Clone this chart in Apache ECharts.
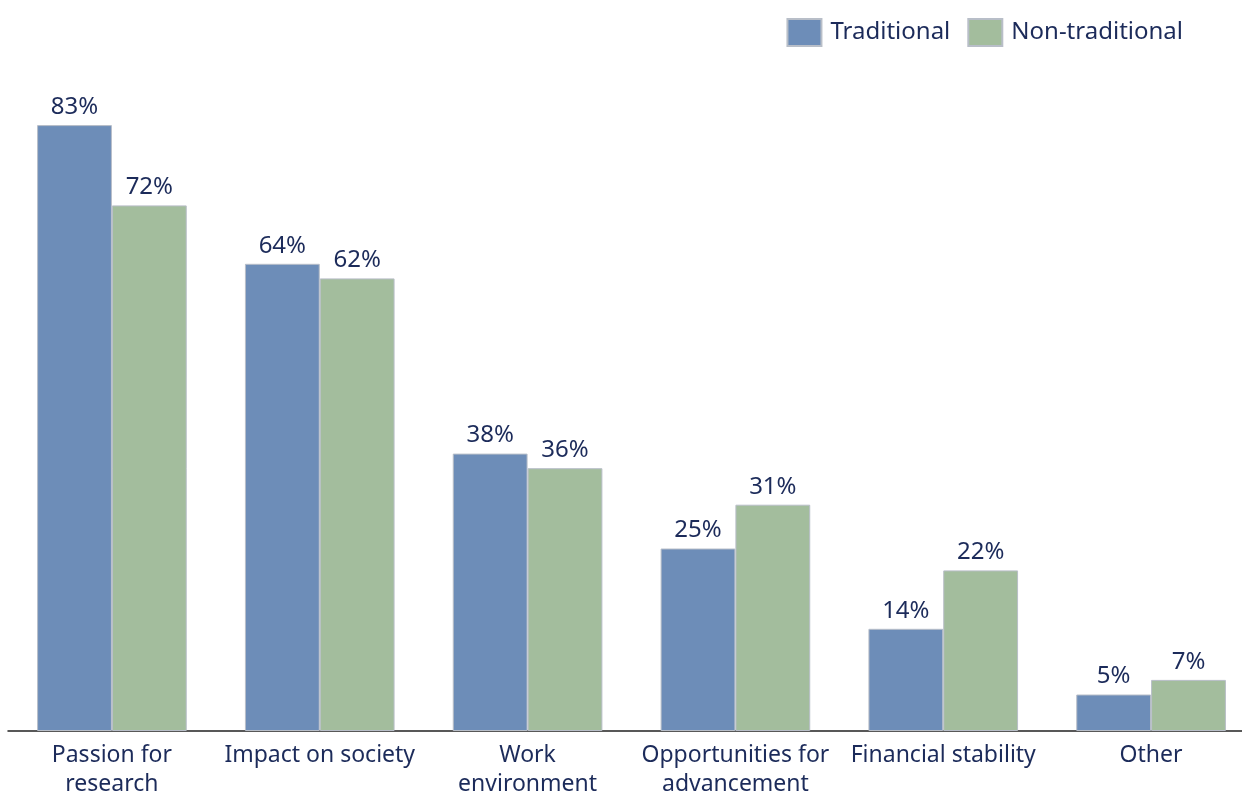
<!DOCTYPE html>
<html>
<head>
<meta charset="utf-8">
<script src="https://cdn.jsdelivr.net/npm/echarts@6/dist/echarts.min.js"></script>
<style>
html,body{margin:0;padding:0;background:#fff;}
#chart{width:1242px;height:794px;}
</style>
</head>
<body>
<div id="chart"></div>
<script>
const categories = ["Passion for\nresearch", "Impact on society", "Work\nenvironment", "Opportunities for\nadvancement", "Financial stability", "Other"];
const traditional = [83, 64, 38, 25, 14, 5];
const nonTraditional = [72, 62, 36, 31, 22, 7];
const seriesNames = ["Traditional", "Non-traditional"];

const textColor = "#1c2b5a";
const font = "Noto Sans";
const chart = echarts.init(document.getElementById('chart'));
const labelCfg = {
  show: true, position: 'top', distance: 6,
  formatter: p => p.value + '%',
  color: textColor, fontFamily: font, fontSize: 24
};
chart.setOption({
  animation: false,
  legend: {
    right: 54, top: 13,
    itemWidth: 34, itemHeight: 27, itemGap: 17,
    icon: 'rect',
    textStyle: { color: textColor, fontFamily: font, fontSize: 24, padding: [0,0,0,4] },
    data: seriesNames
  },
  grid: { left: 8, width: 1247, top: 1, height: 730, containLabel: false, outerBoundsMode: 'none' },
  xAxis: {
    type: 'category', data: categories,
    axisLine: { lineStyle: { color: '#222', width: 1.5 } },
    axisTick: { show: false },
    axisLabel: { color: textColor, fontFamily: font, fontSize: 23, lineHeight: 29, margin: 10, interval: 0 }
  },
  yAxis: { type: 'value', min: 0, max: 100, show: false, splitLine: { show: false } },
  series: [
    { name: seriesNames[0], type: 'bar', data: traditional, barGap: '0%', barCategoryGap: '28%',
      itemStyle: { color: '#6d8db8', borderColor: '#b8bec8', borderWidth: 1 }, label: labelCfg },
    { name: seriesNames[1], type: 'bar', data: nonTraditional, barGap: '0%', barCategoryGap: '28%',
      itemStyle: { color: '#a3bd9d', borderColor: '#b8bec8', borderWidth: 1 }, label: labelCfg }
  ]
});
</script>
</body>
</html>
